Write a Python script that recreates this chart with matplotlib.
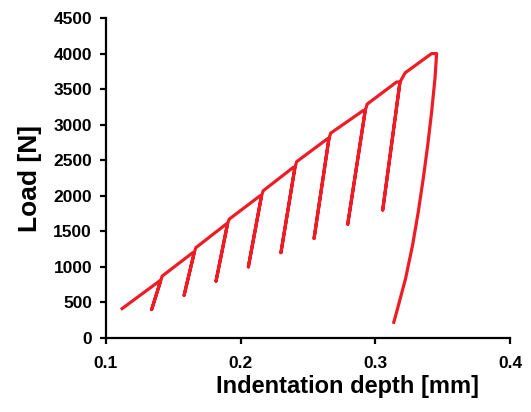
import matplotlib
matplotlib.use("Agg")
import matplotlib.pyplot as plt

# ---- data ----
start_depth = 0.111
start_load = 400

peak_depth = [0.1396, 0.1644, 0.1891, 0.2144, 0.2391, 0.2643, 0.2911, 0.3158, 0.3418]
hold_depth = [0.1405, 0.1655, 0.1902, 0.2155, 0.2403, 0.2655, 0.2925, 0.3183, 0.3455]
peak_load = [800, 1200, 1600, 2000, 2400, 2800, 3200, 3600, 4000]

unload_depth = [0.1339, 0.1580, 0.1817, 0.2057, 0.2299, 0.2545, 0.2795, 0.3055]
unload_load = [400, 600, 800, 1000, 1200, 1400, 1600, 1800]

knee_depth = [0.1417, 0.1667, 0.1914, 0.2167, 0.2416, 0.2668, 0.2940, 0.3222]
knee_load = [870, 1270, 1670, 2070, 2480, 2880, 3290, 3730]

final_unload_depth = [0.3443, 0.3418, 0.3389, 0.3356, 0.3319, 0.3277, 0.3225, 0.3166, 0.3134]
final_unload_load = [3650, 3180, 2710, 2245, 1775, 1310, 840, 420, 200]

xticks = [0.1, 0.2, 0.3, 0.4]
xtick_labels = ["0.1", "0.2", "0.3", "0.4"]
yticks = [0, 500, 1000, 1500, 2000, 2500, 3000, 3500, 4000, 4500]

# ---- build the path ----
depth = [start_depth]
load = [start_load]
n = len(peak_load)
for i in range(n):
    depth += [peak_depth[i], hold_depth[i]]
    load += [peak_load[i], peak_load[i]]
    if i < n - 1:
        depth += [unload_depth[i], hold_depth[i], knee_depth[i]]
        load += [unload_load[i], peak_load[i], knee_load[i]]
    else:
        depth += final_unload_depth
        load += final_unload_load

plt.rcParams['font.family'] = ['Liberation Sans', 'DejaVu Sans']
fig = plt.figure(figsize=(5.31, 4.12), dpi=100)
ax = fig.add_axes([106/531, 1-338/412, (510-106)/531, (338-18)/412])

ax.plot(depth, load, color='#EE1D25', lw=2.3, solid_joinstyle='round', solid_capstyle='butt')

ax.set_xlim(0.1, 0.4)
ax.set_ylim(0, 4500)
ax.set_xticks(xticks)
ax.set_xticklabels(xtick_labels)
ax.set_yticks(yticks)
for s in ['top', 'right']:
    ax.spines[s].set_visible(False)
for s in ['left', 'bottom']:
    ax.spines[s].set_linewidth(1.6)
    ax.spines[s].set_color('black')
ax.tick_params(direction='out', length=4, width=1.6, labelsize=12.5, pad=6)
ax.tick_params(axis='x', pad=9)
for lab in ax.get_xticklabels() + ax.get_yticklabels():
    lab.set_fontweight('bold')
ax.set_xlabel('Indentation depth [mm]', fontsize=17, fontweight='bold', labelpad=5)
ax.xaxis.set_label_coords(0.599, -0.115, transform=ax.transAxes)
ax.xaxis.label.set_verticalalignment('top')
ax.set_ylabel('Load [N]', fontsize=19, fontweight='bold', labelpad=8)

fig.savefig('out.png', dpi=100)
